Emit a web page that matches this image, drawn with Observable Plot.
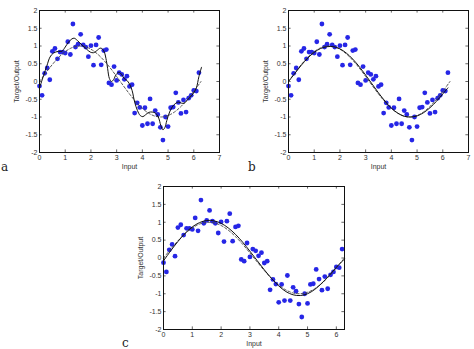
<!DOCTYPE html>
<html>
<head>
<meta charset="utf-8">
<script src="https://cdn.jsdelivr.net/npm/d3@7"></script>
<script src="https://cdn.jsdelivr.net/npm/@observablehq/plot@0.6"></script>
<style>
  html, body { margin: 0; padding: 0; background: #fff; }
  #root { position: relative; width: 474px; height: 349px; overflow: hidden; font-family: "Liberation Sans", Arial, sans-serif; }
  .panel { position: absolute; }
  .tag { position: absolute; font-family: "DejaVu Serif", "Liberation Serif", serif; font-size: 12px; color: #222; }
</style>
</head>
<body>
<div id="root"></div>
<script>
// ---- data: noisy training samples (shared by all panels) ----
const inputX = [0.0,0.1,0.2,0.3,0.4,0.5,0.6,0.7,0.8,0.9,1.0,1.1,1.2,1.3,1.4,1.5,1.6,1.7,1.8,1.9,2.0,2.1,2.2,2.3,2.4,2.5,2.6,2.7,2.8,2.9,3.0,3.1,3.2,3.3,3.4,3.5,3.6,3.7,3.8,3.9,4.0,4.1,4.2,4.3,4.4,4.5,4.6,4.7,4.8,4.9,5.0,5.1,5.2,5.3,5.4,5.5,5.6,5.7,5.8,5.9,6.0,6.1,6.2];
const targetY = [-0.13,-0.39,0.23,0.38,0.05,0.85,0.93,0.64,0.83,0.83,0.80,1.12,0.76,1.62,0.97,1.05,1.33,1.03,0.97,0.70,1.01,0.46,1.03,1.24,0.47,0.87,0.90,-0.04,-0.09,0.42,0.03,0.25,0.20,0.06,0.15,-0.14,-0.09,-0.89,-0.60,-0.73,-1.24,-0.74,-1.19,-0.49,-1.19,-0.82,-0.93,-1.29,-1.65,-1.00,-1.27,-0.74,-0.72,-0.32,-0.59,-0.90,-0.52,-0.86,-0.47,-0.39,-0.25,-0.27,0.25];

// ---- true function (dashed) ----
const trueX = [0,0.25,0.5,0.75,1,1.25,1.5,1.75,2,2.25,2.5,2.75,3,3.25,3.5,3.75,4,4.25,4.5,4.75,5,5.25,5.5,5.75,6,6.28];
const trueY = [0,0.247,0.479,0.682,0.841,0.949,0.997,0.984,0.909,0.778,0.598,0.382,0.141,-0.108,-0.351,-0.572,-0.757,-0.895,-0.978,-0.999,-0.959,-0.859,-0.706,-0.508,-0.279,0];

// ---- network outputs (solid) ----
const outAX = [0,0.16,0.29,0.41,0.54,0.74,0.87,1.0,1.13,1.26,1.35,1.48,1.65,1.82,1.97,2.1,2.23,2.36,2.44,2.52,2.6,2.65,2.72,2.8,2.88,2.98,3.09,3.19,3.3,3.4,3.5,3.6,3.7,3.81,3.92,4.02,4.12,4.25,4.38,4.51,4.62,4.72,4.8,4.88,4.95,5.06,5.16,5.27,5.4,5.52,5.63,5.73,5.86,5.99,6.1,6.2,6.3];
const outAY = [-0.18,0.17,0.45,0.69,0.80,0.85,0.85,0.97,1.11,1.20,1.22,1.15,1.03,0.92,0.83,0.81,0.87,0.94,0.92,0.83,0.59,0.36,0.08,0.0,0.05,0.2,0.26,0.2,0.08,0.03,-0.07,-0.25,-0.58,-0.82,-0.96,-0.99,-0.94,-0.87,-0.86,-0.89,-1.0,-1.24,-1.36,-1.29,-1.1,-0.86,-0.72,-0.63,-0.58,-0.61,-0.61,-0.54,-0.44,-0.33,-0.18,0.14,0.40];

const outBX = [0,0.25,0.5,0.75,1,1.25,1.5,1.75,2,2.25,2.5,2.75,3,3.25,3.5,3.75,4,4.25,4.5,4.75,5,5.25,5.5,5.75,6,6.2];
const outBY = [0.0,0.23,0.46,0.66,0.82,0.93,0.98,0.98,0.92,0.80,0.63,0.42,0.18,-0.07,-0.32,-0.55,-0.75,-0.89,-0.98,-1.0,-0.97,-0.88,-0.74,-0.56,-0.35,-0.18];

const outCX = [0,0.25,0.5,0.75,1,1.25,1.5,1.75,2,2.25,2.5,2.75,3,3.25,3.5,3.75,4,4.25,4.5,4.75,5,5.25,5.5,5.75,6,6.28];
const outCY = [-0.08,0.2,0.46,0.69,0.87,0.99,1.05,1.04,0.97,0.84,0.66,0.44,0.19,-0.07,-0.33,-0.57,-0.78,-0.94,-1.03,-1.05,-1.0,-0.88,-0.70,-0.49,-0.26,-0.03];

// ---- axes ----
const yTicks = [-2,-1.5,-1,-0.5,0,0.5,1,1.5,2];
const xTicksAB = [0,1,2,3,4,5,6,7];
const xTicksC = [0,1,2,3,4,5,6];
const xLabel = "Input";
const yLabel = "Target/Output";
const panelTags = ["a","b","c"];

const pts = inputX.map((x, i) => ({x, y: targetY[i]}));
const zipXY = (xs, ys) => xs.map((x, i) => ({x, y: ys[i]}));

function panel({width, height, mL, mR, mT, mB, xDomain, xTicks, outX, outY}) {
  const fw = width - mL - mR, fh = height - mT - mB;
  const tx = 2.6 * (xDomain[1] - xDomain[0]) / fw; // inward tick length in data units
  const ty = 2.6 * 4 / fh;
  return Plot.plot({
    width, height,
    marginLeft: mL, marginRight: mR, marginTop: mT, marginBottom: mB,
    style: {fontFamily: "'Liberation Sans', Arial, sans-serif", fontSize: "7px", color: "#333", background: "white"},
    x: {domain: xDomain},
    y: {domain: [-2, 2]},
    marks: [
      Plot.dot(pts, {x: "x", y: "y", r: 2.4, fill: "#2626e6", stroke: "none"}),
      Plot.line(zipXY(trueX, trueY), {x: "x", y: "y", stroke: "#444", strokeWidth: 0.9, strokeDasharray: "2.5,2", curve: "catmull-rom"}),
      Plot.line(zipXY(outX, outY), {x: "x", y: "y", stroke: "#111", strokeWidth: 1, curve: "catmull-rom"}),
      Plot.ruleX(xTicks, {y1: -2, y2: -2 + ty, stroke: "#222", strokeWidth: 0.7}),
      Plot.ruleX(xTicks, {y1: 2, y2: 2 - ty, stroke: "#222", strokeWidth: 0.7}),
      Plot.ruleY(yTicks, {x1: xDomain[0], x2: xDomain[0] + tx, stroke: "#222", strokeWidth: 0.7}),
      Plot.ruleY(yTicks, {x1: xDomain[1], x2: xDomain[1] - tx, stroke: "#222", strokeWidth: 0.7}),
      Plot.frame({stroke: "#111", strokeWidth: 1}),
      Plot.axisX({ticks: xTicks, tickSize: 0, tickPadding: 3, tickFormat: d => String(d), label: xLabel, labelAnchor: "center", labelArrow: "none", labelOffset: 16, fontSize: 7, fill: "#333"}),
      Plot.axisY({ticks: yTicks, tickSize: 0, tickPadding: 2, tickFormat: d => String(d), label: yLabel, labelAnchor: "center", labelArrow: "none", labelOffset: 25, fontSize: 7, fill: "#333"})
    ]
  });
}

const root = document.getElementById("root");
function place(node, left, top) {
  node.classList.add("panel");
  node.style.left = left + "px";
  node.style.top = top + "px";
  root.appendChild(node);
}

place(panel({width: 230, height: 175, mL: 39, mR: 11, mT: 10, mB: 23, xDomain: [0, 7], xTicks: xTicksAB, outX: outAX, outY: outAY}), 0, 0);
place(panel({width: 225, height: 175, mL: 39, mR: 6, mT: 10, mB: 23, xDomain: [0, 7], xTicks: xTicksAB, outX: outBX, outY: outBY}), 249, 0);
place(panel({width: 230, height: 174, mL: 39, mR: 10, mT: 11, mB: 20, xDomain: [0, 6.2832], xTicks: xTicksC, outX: outCX, outY: outCY}), 124, 175);

const tagPos = [[1, 160], [248, 160], [122, 336]];
panelTags.forEach((t, i) => {
  const d = document.createElement("div");
  d.className = "tag";
  d.textContent = t;
  d.style.left = tagPos[i][0] + "px";
  d.style.top = tagPos[i][1] + "px";
  root.appendChild(d);
});
</script>
</body>
</html>
